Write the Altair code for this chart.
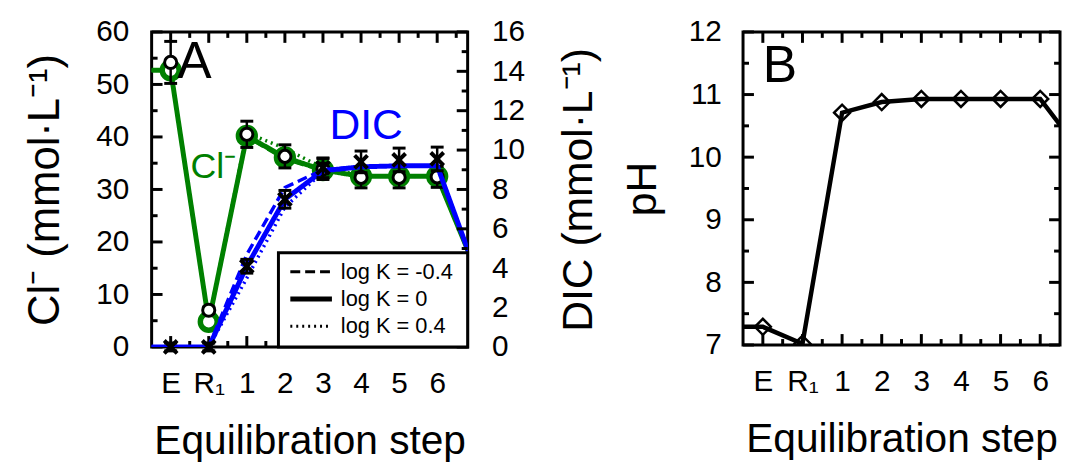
import json
import altair as alt
import pandas as pd

FONT = "Liberation Sans"
GREEN = "#008000"
BLUE = "#0000ff"

# ---------------- data ----------------
step_labels = ["E", "R₁", "1", "2", "3", "4", "5", "6"]
step_pos = [0, 1, 2, 3, 4, 5, 6, 7]
model_pos = [-1, 0, 1, 2, 3, 4, 5, 6, 7, 8]
variant_labels = ["log K = -0.4", "log K = 0", "log K = 0.4"]
variant_dash = [[10, 5], [1, 0], [2, 4]]
variant_width = [3, 5, 3]

# modelled Cl- (mmol/L) for three log K values
cl_model_m04 = [52.7, 52.7, 4.8, 40.0, 35.8, 33.6, 32.5, 32.5, 32.5, 15.0]
cl_model_0 = [52.7, 52.7, 4.8, 40.2, 36.1, 33.7, 32.5, 32.5, 32.5, 15.0]
cl_model_p04 = [52.7, 52.7, 4.8, 40.8, 37.8, 34.1, 32.7, 32.5, 32.5, 15.0]

# modelled DIC (mmol/L)
dic_model_m04 = [0, 0, 0, 4.7, 8.1, 9.0, 9.15, 9.2, 9.2, 3.9]
dic_model_0 = [0, 0, 0, 4.1, 7.5, 8.95, 9.15, 9.2, 9.2, 3.9]
dic_model_p04 = [0, 0, 0, 3.5, 7.1, 8.9, 9.15, 9.2, 9.2, 3.9]

# measured values with errors
cl_meas = [54.2, 7.0, 40.5, 36.3, 33.9, 32.3, 32.3, 32.4]
cl_err = [4.0, 0.6, 2.5, 2.2, 2.0, 2.0, 2.0, 2.0]
dic_meas = [0, 0, 4.1, 7.5, 9.1, 9.4, 9.5, 9.55]
dic_err = [0.2, 0.2, 0.35, 0.45, 0.5, 0.55, 0.6, 0.6]

# pH (panel B)
ph_model = [7.29, 7.29, 7.02, 10.71, 10.88, 10.93, 10.93, 10.93, 10.93, 10.1]

# annotations (data coordinates)
ann_a = {"x": [0.17], "y": [51.2], "text": ["A"]}
ann_cl = {"x": [0.52], "y": [32.1], "text": ["Cl⁻"]}
ann_dic = {"x": [4.17], "y": [10.55], "text": ["DIC"]}
ann_b = {"x": [0.0], "y": [11.2], "text": ["B"]}

# axis tick positions
cl_major = [0, 10, 20, 30, 40, 50, 60]
cl_minor = [5, 15, 25, 35, 45, 55]
dic_major = [0, 2, 4, 6, 8, 10, 12, 14, 16]
dic_minor = [1, 3, 5, 7, 9, 11, 13, 15]
ph_major = [7, 8, 9, 10, 11, 12]
ph_minor = [7.5, 8.5, 9.5, 10.5, 11.5]
x_major = step_pos
x_minor_a = [0.5, 1.5, 2.5, 3.5, 4.5, 5.5, 6.5, 7.5]
x_minor_b = [0.5, 1.5, 2.5, 3.5, 4.5, 5.5, 6.5]

WA, HA = 319, 318
WB, HB = 320, 316
MAJ, MIN = 11, 6
TICKW = 3

label_expr = json.dumps(step_labels, ensure_ascii=False) + "[datum.value]"


def x_enc(domain):
    return alt.X(
        "x:Q",
        scale=alt.Scale(domain=domain, nice=False, zero=False),
        axis=alt.Axis(values=step_pos, labelExpr=label_expr, title="Equilibration step",
                      orient="bottom", labelPadding=22, titlePadding=24, labelFlush=False,
                      titleFontSize=41),
    )


def y_enc(field, domain, axis):
    return alt.Y(field, scale=alt.Scale(domain=domain, nice=False, zero=False), axis=axis)


def x_ticks(xe, positions, length, H):
    df = pd.DataFrame({"x": positions})
    base = alt.Chart(df).mark_rule(color="black", strokeWidth=TICKW)
    return [
        base.encode(x=xe, y=alt.value(0), y2=alt.value(length)),
        base.encode(x=xe, y=alt.value(H), y2=alt.value(H - length)),
    ]


def y_ticks(ye, positions, length, W, sides):
    df = pd.DataFrame({"y": positions})
    base = alt.Chart(df).mark_rule(color="black", strokeWidth=TICKW)
    out = []
    if "left" in sides:
        out.append(base.encode(y=ye, x=alt.value(0), x2=alt.value(length)))
    if "right" in sides:
        out.append(base.encode(y=ye, x=alt.value(W), x2=alt.value(W - length)))
    return out


# ---------------- panel A ----------------
xA = x_enc([-0.5, 7.8])
cl_axis = alt.Axis(values=cl_major, title="Cl⁻ (mmol·L⁻¹)", orient="left",
                   labelPadding=23, titlePadding=29, titleFontSize=44, labelFlush=False)
dic_axis = alt.Axis(values=dic_major, title="DIC (mmol·L⁻¹)", orient="right",
                    labelPadding=24, titlePadding=34, titleAngle=270,
                    titleBaseline="top", titleFontSize=43, labelFlush=False)
yCl = y_enc("y:Q", [0, 60], cl_axis)
yClLo = y_enc("lo:Q", [0, 60], cl_axis)
yClHi = y_enc("hi:Q", [0, 60], cl_axis)
yDic = y_enc("y:Q", [0, 16], dic_axis)
yDicLo = y_enc("lo:Q", [0, 16], dic_axis)
yDicHi = y_enc("hi:Q", [0, 16], dic_axis)

dash_scale = alt.Scale(domain=variant_labels, range=variant_dash)
dash_enc = alt.StrokeDash("variant:N", scale=dash_scale, legend=None)

cl_var_df = pd.DataFrame({
    "x": model_pos * 2,
    "y": cl_model_m04 + cl_model_p04,
    "variant": [variant_labels[0]] * len(model_pos) + [variant_labels[2]] * len(model_pos),
})
cl_sol_df = pd.DataFrame({"x": model_pos, "y": cl_model_0, "variant": variant_labels[1]})
cl_pts_df = pd.DataFrame({"x": step_pos, "y": cl_model_0[1:9]})
cl_meas_df = pd.DataFrame({
    "x": step_pos, "y": cl_meas,
    "lo": [v - e for v, e in zip(cl_meas, cl_err)],
    "hi": [v + e for v, e in zip(cl_meas, cl_err)],
})

dic_var_df = pd.DataFrame({
    "x": model_pos * 2,
    "y": dic_model_m04 + dic_model_p04,
    "variant": [variant_labels[0]] * len(model_pos) + [variant_labels[2]] * len(model_pos),
})
dic_sol_df = pd.DataFrame({"x": model_pos, "y": dic_model_0, "variant": variant_labels[1]})
dic_meas_df = pd.DataFrame({
    "x": step_pos, "y": dic_meas,
    "lo": [v - e for v, e in zip(dic_meas, dic_err)],
    "hi": [v + e for v, e in zip(dic_meas, dic_err)],
})

cap = dict(color="black", orient="horizontal", size=13, thickness=3, opacity=1)

cl_layers = [
    alt.Chart(cl_var_df).mark_line(color=GREEN, strokeWidth=3.5, clip=True).encode(
        x=xA, y=yCl, strokeDash=dash_enc, detail="variant:N"),
    alt.Chart(cl_sol_df).mark_line(color=GREEN, strokeWidth=5, clip=True).encode(
        x=xA, y=yCl, strokeDash=dash_enc),
    alt.Chart(cl_pts_df).mark_circle(fill="white", stroke=GREEN, strokeWidth=5.5, size=290,
                                     opacity=1, clip=True).encode(x=xA, y=yCl),
    alt.Chart(cl_meas_df).mark_rule(color="black", strokeWidth=2.5).encode(
        x=xA, y=yClLo, y2="hi:Q"),
    alt.Chart(cl_meas_df).mark_tick(**cap).encode(x=xA, y=yClLo),
    alt.Chart(cl_meas_df).mark_tick(**cap).encode(x=xA, y=yClHi),
    alt.Chart(cl_meas_df).mark_circle(fill="white", stroke="black", strokeWidth=3, size=150,
                                      opacity=1).encode(x=xA, y=yCl),
    alt.Chart(pd.DataFrame(ann_a)).mark_text(font=FONT, fontSize=52, align="left",
                                             baseline="alphabetic", color="black").encode(
        x=xA, y=yCl, text="text:N"),
    alt.Chart(pd.DataFrame(ann_cl)).mark_text(font=FONT, fontSize=36, align="left",
                                              baseline="alphabetic", color=GREEN).encode(
        x=xA, y=yCl, text="text:N"),
]
cl_layers += y_ticks(yCl, cl_major, MAJ, WA, ["left"])
cl_layers += y_ticks(yCl, cl_minor, MIN, WA, ["left"])
cl_layers += x_ticks(xA, x_major, MAJ, HA)
cl_layers += x_ticks(xA, x_minor_a, MIN, HA)

xmark = "M-1,-1L1,1M-1,1L1,-1"
dic_layers = [
    alt.Chart(dic_var_df).mark_line(color=BLUE, strokeWidth=3.5, clip=True).encode(
        x=xA, y=yDic, strokeDash=dash_enc, detail="variant:N"),
    alt.Chart(dic_sol_df).mark_line(color=BLUE, strokeWidth=5, clip=True).encode(
        x=xA, y=yDic, strokeDash=dash_enc),
    alt.Chart(dic_meas_df).mark_rule(color="black", strokeWidth=2.5).encode(
        x=xA, y=yDicLo, y2="hi:Q"),
    alt.Chart(dic_meas_df).mark_tick(**cap).encode(x=xA, y=yDicLo),
    alt.Chart(dic_meas_df).mark_tick(**cap).encode(x=xA, y=yDicHi),
    alt.Chart(dic_meas_df).mark_point(shape=xmark, size=169, filled=False, stroke="black",
                                      strokeWidth=4, opacity=1).encode(x=xA, y=yDic),
    alt.Chart(pd.DataFrame(ann_dic)).mark_text(font=FONT, fontSize=43, align="left",
                                               baseline="alphabetic", color=BLUE).encode(
        x=xA, y=yDic, text="text:N"),
]
dic_layers += y_ticks(yDic, dic_major, MAJ, WA, ["right"])
dic_layers += y_ticks(yDic, dic_minor, MIN, WA, ["right"])

# ---- legend box (inside panel A, lower right) ----
LEG_X0, LEG_Y0 = 128, 223
LEG_SYM_X0, LEG_SYM_X1, LEG_TXT_X = 140, 182, 191
LEG_ROW0, LEG_ROW_STEP = 242, 27.5
one = pd.DataFrame({"k": [0]})
dic_layers.append(
    alt.Chart(one).mark_rect(fill="white", stroke="black", strokeWidth=3).encode(
        x=alt.value(LEG_X0), x2=alt.value(WA), y=alt.value(LEG_Y0), y2=alt.value(HA))
)
for i, (lab, dash, sw) in enumerate(zip(variant_labels, variant_dash, variant_width)):
    yy = LEG_ROW0 + i * LEG_ROW_STEP
    dic_layers.append(
        alt.Chart(one).mark_rule(color="black", strokeWidth=sw, strokeDash=dash).encode(
            x=alt.value(LEG_SYM_X0), x2=alt.value(LEG_SYM_X1), y=alt.value(yy))
    )
    dic_layers.append(
        alt.Chart(pd.DataFrame({"label": [lab]})).mark_text(
            font=FONT, fontSize=22, align="left", baseline="middle", color="black").encode(
            x=alt.value(LEG_TXT_X), y=alt.value(yy), text="label:N")
    )

panel_a = alt.layer(
    alt.layer(*cl_layers),
    alt.layer(*dic_layers),
).resolve_scale(y="independent").properties(width=WA, height=HA)

# ---------------- panel B ----------------
xB = x_enc([-0.5, 7.5])
ph_axis = alt.Axis(values=ph_major, title="pH", orient="left", labelPadding=22,
                   titlePadding=24, titleFontSize=43, labelFlush=False)
yPh = y_enc("y:Q", [7, 12], ph_axis)

ph_line_df = pd.DataFrame({"x": model_pos, "y": ph_model})
ph_pts_df = pd.DataFrame({"x": step_pos, "y": ph_model[1:9]})

b_layers = [
    alt.Chart(ph_line_df).mark_line(color="black", strokeWidth=4.5, clip=True).encode(x=xB, y=yPh),
    alt.Chart(ph_pts_df).mark_point(shape="diamond", size=260, filled=False, stroke="black",
                                    strokeWidth=2.5, opacity=1, clip=True).encode(x=xB, y=yPh),
    alt.Chart(pd.DataFrame(ann_b)).mark_text(font=FONT, fontSize=52, align="left",
                                             baseline="alphabetic", color="black").encode(
        x=xB, y=yPh, text="text:N"),
]
b_layers += y_ticks(yPh, ph_major, MAJ, WB, ["left", "right"])
b_layers += y_ticks(yPh, ph_minor, MIN, WB, ["left", "right"])
b_layers += x_ticks(xB, x_major, MAJ, HB)
b_layers += x_ticks(xB, x_minor_b, MIN, HB)

panel_b = alt.layer(*b_layers).properties(width=WB, height=HB)

chart = alt.hconcat(panel_a, panel_b, spacing=278, bounds="flush").properties(
    padding={"left": 14, "top": 5, "right": 0, "bottom": 0}
).configure_view(
    stroke="black", strokeWidth=3
).configure_axis(
    labelFont=FONT, titleFont=FONT, labelFontSize=30, titleFontSize=42,
    titleFontWeight="normal", labelColor="black", titleColor="black",
    domain=False, ticks=False, grid=False,
)

chart.save("out.html", embed_options={"renderer": "svg", "actions": False})
